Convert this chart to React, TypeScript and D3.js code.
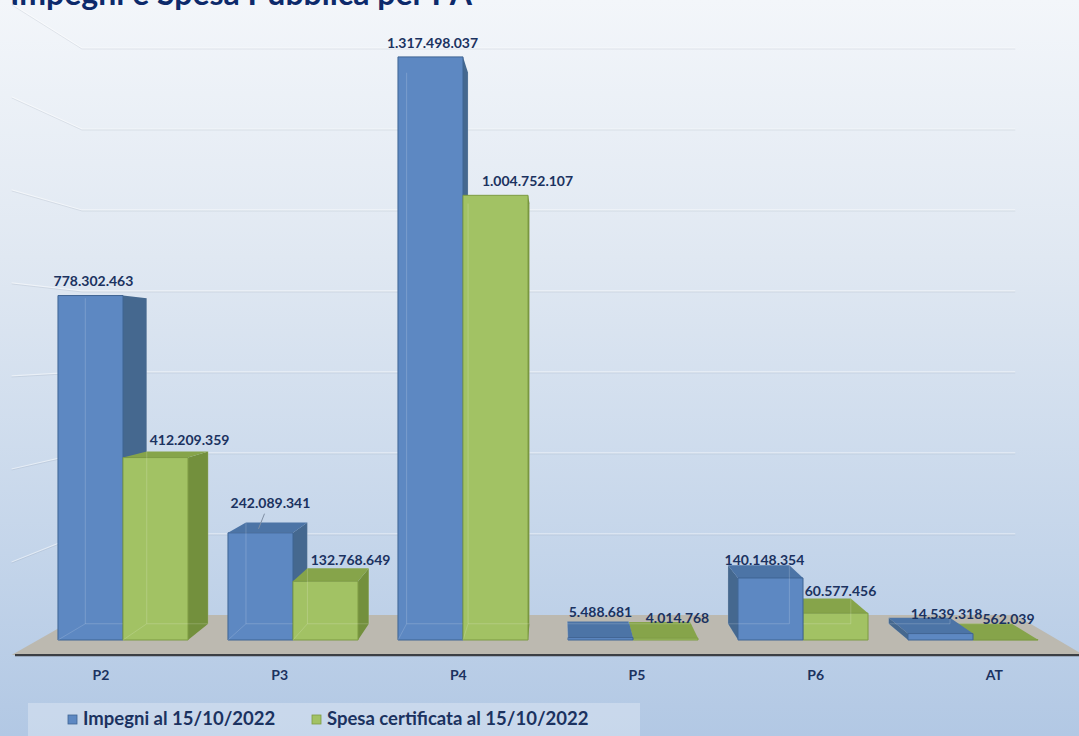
import { formatLocale, scaleBand, scaleLinear } from 'd3';

const width = 1079;
const height = 736;

const categories = ['P2', 'P3', 'P4', 'P5', 'P6', 'AT'];
const seriesNames = ['Impegni al 15/10/2022', 'Spesa certificata al 15/10/2022'];
const impegni = [778302463, 242089341, 1317498037, 5488681, 140148354, 14539318];
const spesa = [412209359, 132768649, 1004752107, 4014768, 60577456, 562039];
const yMax = 1400000000;

const title = 'Impegni e Spesa Pubblica per PA';

// perspective set-up of the 3D plot
const vp = [555, 345];
const sBar = 0.945;
const sWall = 0.915;
const sFloor = 1.051;
const font = 'Lato, "Open Sans", sans-serif';
const textColor = '#1b3260';

const palette = [
	{ front: '#5d88c2', side: '#45688f', top: '#4c74a6', edge: '#3f6493' },
	{ front: '#a2c264', side: '#73903d', top: '#86a44a', edge: '#7d9b43' },
];

// small label nudges (Excel moved some labels to avoid overlap)
const labelNudgeX = [
	[3, 10, 2, 0, -6, 6],
	[34, 25, 32, 12, 5, 3],
];
const labelNudgeY = [
	[0, -10, 0, -3, 3, 3],
	[0, 0, 0, 2, 0, 2],
];

const itFormat = formatLocale({
	decimal: ',',
	thousands: '.',
	grouping: [3],
	currency: ['€', ''],
}).format(',d');

const proj = (x: number, y: number, s: number) => [
	vp[0] + (x - vp[0]) * s,
	vp[1] + (y - vp[1]) * s,
];
const pts = (list: number[][]) => list.map(p => p.join(',')).join(' ');

const App = () => {
	const x0 = scaleBand<string>()
		.domain(categories)
		.range([38, 1058])
		.paddingInner(0.235)
		.paddingOuter(0.1175);
	const x1 = scaleBand<number>()
		.domain([0, 1])
		.range([0, x0.bandwidth()]);
	const y = scaleLinear().domain([0, yMax]).range([640, 20.4]);
	const y0 = y(0);
	const [xL, xR] = x0.range();

	const series = [impegni, spesa];
	const bars: any[] = [];
	series.forEach((vals, si) =>
		vals.forEach((v, ci) => {
			const xa = (x0(categories[ci]) as number) + (x1(si) as number);
			const xb = xa + x1.bandwidth();
			bars.push({ si, ci, v, xa, xb, yt: y(v) });
		})
	);
	const order = [...bars].sort(
		(a, b) =>
			Math.abs((b.xa + b.xb) / 2 - vp[0]) - Math.abs((a.xa + a.xb) / 2 - vp[0])
	);

	const ticks = y.ticks(7);

	return (
		<svg
			width={width}
			height={height}
			style={{ position: 'absolute', left: 0, top: 0 }}
			fontFamily={font}
		>
			<defs>
				<linearGradient id="bg" x1="0" y1="0" x2="0" y2="1">
					<stop offset="0" stopColor="#f3f6fa" />
					<stop offset="0.35" stopColor="#e0e8f2" />
					<stop offset="0.75" stopColor="#c4d5ea" />
					<stop offset="1" stopColor="#b2c8e4" />
				</linearGradient>
			</defs>
			<rect width={width} height={height} fill="url(#bg)" />

			<text x={10} y={5} fontSize={32} fontWeight="bold" fill="#0d2a6b">
				{title}
			</text>

			{/* back wall and side wall grid */}
			{ticks
				.filter(t => t > 0)
				.map(t => {
					const a = proj(xL, y(t), sWall);
					const b = proj(xR, y(t), sWall);
					const c = proj(xL, y(t), sFloor);
					return (
						<g key={t}>
							<polyline
								points={pts([c, a, b])}
								fill="none"
								stroke="#ffffff"
								strokeOpacity={0.5}
								strokeWidth={1.2}
							/>
							<polyline
								points={pts([
									[c[0], c[1] + 1],
									[a[0], a[1] + 1],
									[b[0], b[1] + 1],
								])}
								fill="none"
								stroke="#6b7890"
								strokeOpacity={0.14}
								strokeWidth={1}
							/>
						</g>
					);
				})}

			{/* floor */}
			<polygon
				points={pts([
					proj(xL, y0, sWall),
					proj(xR, y0, sWall),
					proj(xR, y0, sFloor),
					proj(xL, y0, sFloor),
				])}
				fill="#bcb9b0"
			/>
			<line
				x1={15}
				x2={width}
				y1={proj(xL, y0, sFloor)[1]}
				y2={proj(xL, y0, sFloor)[1]}
				stroke="#3c3f44"
				strokeWidth={2.2}
			/>

			{/* bars, far from the eye first */}
			{order.map(b => {
				const c = palette[b.si];
				const A = [b.xa, b.yt];
				const B = [b.xb, b.yt];
				const C = [b.xb, y0];
				const D = [b.xa, y0];
				const [Ab, Bb, Cb, Db] = [A, B, C, D].map(p => proj(p[0], p[1], sBar));
				const rightSide = b.xb < vp[0];
				const leftSide = b.xa > vp[0];
				const topFace = b.yt > vp[1];
				return (
					<g key={`${b.si}-${b.ci}`}>
						{rightSide && (
							<polygon points={pts([B, C, Cb, Bb])} fill={c.side} />
						)}
						{leftSide && (
							<polygon points={pts([A, D, Db, Ab])} fill={c.side} />
						)}
						{topFace && (
							<polygon points={pts([A, B, Bb, Ab])} fill={c.top} />
						)}
						<polygon
							points={pts([A, B, C, D])}
							fill={c.front}
							stroke={c.edge}
							strokeWidth={1}
						/>
						{/* back edges seen through the glassy front */}
						<polyline
							points={pts([Ab, Db, Cb, Bb])}
							fill="none"
							stroke="#ffffff"
							strokeOpacity={0.18}
							strokeWidth={1}
						/>
						<polyline
							points={pts([Db, D])}
							fill="none"
							stroke="#ffffff"
							strokeOpacity={0.15}
						/>
					</g>
				);
			})}

			{/* value labels */}
			{bars.map(b => {
				const back = proj(b.xa, b.yt, sBar)[1];
				const ly =
					Math.min(b.yt, (b.yt + back) / 2) - 13 + labelNudgeY[b.si][b.ci];
				const lx = (b.xa + b.xb) / 2 + labelNudgeX[b.si][b.ci];
				return (
					<g key={`l-${b.si}-${b.ci}`}>
						{labelNudgeY[b.si][b.ci] < -5 && (
							<line
								x1={lx - 6}
								y1={ly + 9}
								x2={lx - 12}
								y2={b.yt - 4}
								stroke="#7f8ea3"
								strokeWidth={1}
							/>
						)}
						<text
							x={lx}
							y={ly}
							textAnchor="middle"
							dominantBaseline="middle"
							fontSize={14}
							fontWeight="bold"
							fill={textColor}
						>
							{itFormat(b.v)}
						</text>
					</g>
				);
			})}

			{/* category axis */}
			{categories.map(cat => {
				const cx = proj(
					(x0(cat) as number) + x0.bandwidth() / 2,
					y0,
					sFloor
				)[0];
				return (
					<text
						key={cat}
						x={cx}
						y={676}
						textAnchor="middle"
						dominantBaseline="middle"
						fontSize={14}
						fontWeight="bold"
						fill={textColor}
					>
						{cat}
					</text>
				);
			})}

			{/* legend */}
			<rect x={28} y={703} width={612} height={40} fill="#ffffff" fillOpacity={0.28} />
			{seriesNames.map((name, i) => {
				const lx = i === 0 ? 68 : 312;
				return (
					<g key={name} transform={`translate(${lx},720)`}>
						<rect
							x={0}
							y={-5}
							width={9}
							height={9}
							fill={palette[i].front}
							stroke={palette[i].edge}
							strokeWidth={0.8}
						/>
						<text
							x={15}
							y={0}
							dominantBaseline="middle"
							fontSize={18.5}
							fontWeight="bold"
							fill={textColor}
						>
							{name}
						</text>
					</g>
				);
			})}
		</svg>
	);
};

export default App;
